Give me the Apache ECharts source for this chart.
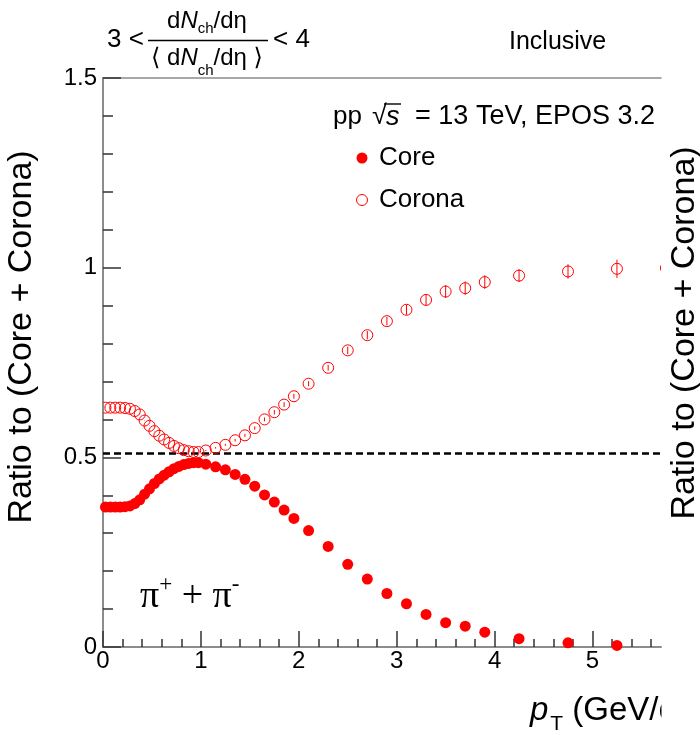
<!DOCTYPE html>
<html><head><meta charset="utf-8">
<script src="https://cdn.jsdelivr.net/npm/echarts@6/dist/echarts.min.js"></script>
<style>html,body{margin:0;padding:0;background:#fff}#c{width:700px;height:735px}</style>
</head><body><div id="c"></div>
<script>
// ---- data ----
const pT = [0.025,0.075,0.125,0.175,0.225,0.275,0.325,0.375,0.425,0.475,0.525,0.575,0.625,0.675,0.725,0.775,0.825,0.875,0.925,0.975,
            1.05,1.15,1.25,1.35,1.45,1.55,1.65,1.75,1.85,1.95,
            2.1,2.3,2.5,2.7,2.9,3.1,3.3,3.5,3.7,3.9,
            4.25,4.75,5.25];
const coreRatio = [0.369,0.369,0.369,0.369,0.370,0.372,0.378,0.388,0.403,0.417,0.431,0.443,0.453,0.462,0.470,0.476,0.481,0.484,0.486,0.486,
                   0.482,0.475,0.467,0.455,0.442,0.424,0.401,0.382,0.361,0.339,
                   0.307,0.265,0.218,0.179,0.141,0.114,0.086,0.064,0.055,0.039,
                   0.022,0.011,0.004];
const coronaRatio = [0.631,0.631,0.631,0.631,0.630,0.628,0.622,0.613,0.597,0.583,0.569,0.557,0.547,0.538,0.530,0.524,0.519,0.516,0.514,0.514,
                     0.518,0.525,0.533,0.545,0.558,0.577,0.600,0.619,0.639,0.661,
                     0.694,0.736,0.782,0.822,0.859,0.889,0.915,0.937,0.946,0.962,
                     0.979,0.990,0.997];
const coronaErr = [0.0005,0.0005,0.0005,0.0005,0.0005,0.0005,0.0005,0.0005,0.0005,0.0005,0.0005,0.0005,0.001,0.001,0.001,0.001,0.001,0.001,0.001,0.001,
                   0.0015,0.002,0.0025,0.0035,0.004,0.0045,0.005,0.006,0.0065,0.0065,
                   0.0066,0.0075,0.0097,0.011,0.011,0.013,0.0145,0.017,0.0175,0.018,
                   0.017,0.019,0.024];
// bin partly outside the visible frame
const pTEdge = [5.75];
const coronaEdge = [0.999];
const coronaEdgeErr = [0.025];

const refLevel = 0.51;
const xRange = [0, 5.7];
const yRange = [0, 1.5];
const xMajorTicks = [0,1,2,3,4,5];
const xMinorTicks = [0.2,0.4,0.6,0.8,1.2,1.4,1.6,1.8,2.2,2.4,2.6,2.8,3.2,3.4,3.6,3.8,4.2,4.4,4.6,4.8,5.2,5.4,5.6];
const yTickStep = 0.5;

// ---- chart ----
const RED = '#ff0000';
const SANS = "'Liberation Sans', Arial, 'DejaVu Sans', sans-serif";
const SERIF = "'Liberation Serif', 'DejaVu Serif', serif";
const chart = echarts.init(document.getElementById('c'), null, {renderer: 'canvas'});

const coronaPts = pT.map((p, i) => [p, coronaRatio[i], coronaErr[i]])
  .concat(pTEdge.map((p, i) => [p, coronaEdge[i], coronaEdgeErr[i]]));

const axisGrey = '#8c8c8c';
const tickCol = '#333';

const option = {
  animation: false,
  backgroundColor: '#fff',
  grid: {left: 103, right: 39, top: 78, bottom: 88, containLabel: false},
  xAxis: [
    {
      type: 'value', min: xRange[0], max: xRange[1], position: 'bottom',
      axisLine: {show: true, onZero: false, lineStyle: {color: axisGrey, width: 2}},
      axisTick: {show: true, inside: true, length: 16, customValues: xMajorTicks, lineStyle: {color: tickCol, width: 1.5}},
      axisLabel: {show: true, customValues: xMajorTicks, fontSize: 24, color: '#000', fontFamily: SANS, margin: 2},
      splitLine: {show: false}
    },
    {
      type: 'value', min: xRange[0], max: xRange[1], position: 'bottom',
      axisLine: {show: false},
      axisTick: {show: true, inside: true, length: 8, customValues: xMinorTicks, lineStyle: {color: tickCol, width: 1.5}},
      axisLabel: {show: false},
      splitLine: {show: false}
    },
    {
      type: 'value', min: xRange[0], max: xRange[1], position: 'top',
      axisLine: {show: true, lineStyle: {color: axisGrey, width: 1.5}},
      axisTick: {show: false}, axisLabel: {show: false}, splitLine: {show: false}
    }
  ],
  yAxis: [{
    type: 'value', min: yRange[0], max: yRange[1], interval: yTickStep,
    axisLine: {show: true, onZero: false, lineStyle: {color: axisGrey, width: 2}},
    axisTick: {show: true, inside: true, length: 18, lineStyle: {color: tickCol, width: 1.5}},
    minorTick: {show: true, splitNumber: 5, length: 10, lineStyle: {color: tickCol, width: 1.5}},
    axisLabel: {fontSize: 24, color: '#000', fontFamily: SANS, margin: 6},
    splitLine: {show: false}, minorSplitLine: {show: false}
  }],
  series: [
    {
      type: 'line', xAxisIndex: 0, yAxisIndex: 0, symbol: 'none', silent: true,
      data: [[xRange[0], refLevel], [xRange[1], refLevel]],
      lineStyle: {color: '#000', width: 2.5, type: [7, 4]}, z: 1
    },
    {
      type: 'custom', xAxisIndex: 0, yAxisIndex: 0, clip: true, z: 3,
      data: coronaPts,
      renderItem: function (params, api) {
        const x = api.value(0), y = api.value(1), e = api.value(2);
        const c = api.coord([x, y]);
        const lo = api.coord([x, y - e]);
        const hi = api.coord([x, y + e]);
        return {type: 'group', children: [
          {type: 'circle', shape: {cx: c[0], cy: c[1], r: 5.5}, style: {fill: 'none', stroke: RED, lineWidth: 1}},
          {type: 'line', shape: {x1: c[0], y1: lo[1], x2: c[0], y2: hi[1]}, style: {stroke: RED, lineWidth: 1}}
        ]};
      }
    },
    {
      type: 'scatter', xAxisIndex: 0, yAxisIndex: 0, symbol: 'circle', symbolSize: 11, z: 4,
      itemStyle: {color: RED, opacity: 1}, data: pT.map((p, i) => [p, coreRatio[i]])
    }
  ],
  graphic: [
    // y axis titles
    {type: 'text', x: 22, y: 337, rotation: Math.PI / 2, z: 10,
     style: {text: 'Ratio to (Core + Corona)', fontSize: 34, fontFamily: SANS, fill: '#000', align: 'center', verticalAlign: 'middle'}},
    {type: 'text', x: 685, y: 333, rotation: Math.PI / 2, z: 10,
     style: {text: 'Ratio to (Core + Corona)', fontSize: 34, fontFamily: SANS, fill: '#000', align: 'center', verticalAlign: 'middle'}},
    // x axis title (cut at the frame edge)
    {type: 'text', x: 530, y: 711, z: 10,
     style: {text: '{i|p}{s|T}{n| (GeV/c)}', fontFamily: SANS, fill: '#000', align: 'left', verticalAlign: 'middle',
       rich: {i: {fontSize: 33, fontStyle: 'italic', fontFamily: SANS, lineHeight: 33},
              s: {fontSize: 21, fontFamily: SANS, lineHeight: 21, padding: [26, 0, 0, 2]},
              n: {fontSize: 33, fontFamily: SANS, lineHeight: 33}}}},
    {type: 'rect', shape: {x: 661.5, y: 680, width: 40, height: 56}, style: {fill: '#fff'}, z: 20},
    // multiplicity class
    {type: 'text', x: 107, y: 40, z: 10,
     style: {text: '3 <', fontSize: 26, fontFamily: SANS, fill: '#000', align: 'left', verticalAlign: 'middle'}},
    {type: 'text', x: 207, y: 21, z: 10,
     style: {text: '{a|d}{i|N}{s|ch}{a|/dη}', fontFamily: SANS, fill: '#000', align: 'center', verticalAlign: 'middle',
       rich: {a: {fontSize: 24, fontFamily: SANS, lineHeight: 26},
              i: {fontSize: 24, fontFamily: SANS, fontStyle: 'italic', lineHeight: 26},
              s: {fontSize: 15, fontFamily: SANS, lineHeight: 15, padding: [16, 0, 0, 0]}}}},
    {type: 'line', shape: {x1: 148, y1: 40.5, x2: 268, y2: 40.5}, style: {stroke: '#000', lineWidth: 1.3}, z: 10},
    {type: 'text', x: 207, y: 58, z: 10,
     style: {text: '{a|⟨ d}{i|N}{s|ch}{a|/dη ⟩}', fontFamily: SANS, fill: '#000', align: 'center', verticalAlign: 'middle',
       rich: {a: {fontSize: 24, fontFamily: SANS, lineHeight: 26},
              i: {fontSize: 24, fontFamily: SANS, fontStyle: 'italic', lineHeight: 26},
              s: {fontSize: 15, fontFamily: SANS, lineHeight: 15, padding: [26, 0, 0, 0]}}}},
    {type: 'text', x: 273, y: 40, z: 10,
     style: {text: '< 4', fontSize: 26, fontFamily: SANS, fill: '#000', align: 'left', verticalAlign: 'middle'}},
    {type: 'text', x: 509, y: 42, z: 10,
     style: {text: 'Inclusive', fontSize: 25, fontFamily: SANS, fill: '#000', align: 'left', verticalAlign: 'middle'}},
    // legend header
    {type: 'text', x: 333, y: 117, z: 10,
     style: {text: 'pp', fontSize: 26, fontFamily: SANS, fill: '#000', align: 'left', verticalAlign: 'middle'}},
    {type: 'text', x: 372, y: 117, z: 10,
     style: {text: '√', fontSize: 27, fontFamily: SANS, fill: '#000', align: 'left', verticalAlign: 'middle'}},
    {type: 'text', x: 386, y: 117, z: 10,
     style: {text: 's', fontSize: 27, fontStyle: 'italic', fontFamily: SANS, fill: '#000', align: 'left', verticalAlign: 'middle'}},
    {type: 'line', shape: {x1: 384, y1: 104, x2: 401, y2: 104}, style: {stroke: '#000', lineWidth: 1.4}, z: 10},
    {type: 'text', x: 655, y: 117, z: 10,
     style: {text: '= 13 TeV, EPOS 3.2', fontSize: 27, fontFamily: SANS, fill: '#000', align: 'right', verticalAlign: 'middle'}},
    // legend entries
    {type: 'circle', shape: {cx: 362, cy: 158, r: 5.5}, style: {fill: RED}, z: 10},
    {type: 'text', x: 379, y: 158, z: 10,
     style: {text: 'Core', fontSize: 26, fontFamily: SANS, fill: '#000', align: 'left', verticalAlign: 'middle'}},
    {type: 'circle', shape: {cx: 362, cy: 200, r: 5.5}, style: {fill: 'none', stroke: RED, lineWidth: 1}, z: 10},
    {type: 'text', x: 379, y: 200, z: 10,
     style: {text: 'Corona', fontSize: 26, fontFamily: SANS, fill: '#000', align: 'left', verticalAlign: 'middle'}},
    // particle label
    {type: 'text', x: 140, y: 597, z: 10,
     style: {text: '{p|π}{u|+}{p| + π}{u|-}', fontFamily: SERIF, fill: '#000', align: 'left', verticalAlign: 'middle',
       rich: {p: {fontSize: 38, fontFamily: SERIF, lineHeight: 38},
              u: {fontSize: 23, fontFamily: SERIF, lineHeight: 23, padding: [0, 0, 24, 0]}}}}
  ]
};
chart.setOption(option);
</script>
</body></html>
